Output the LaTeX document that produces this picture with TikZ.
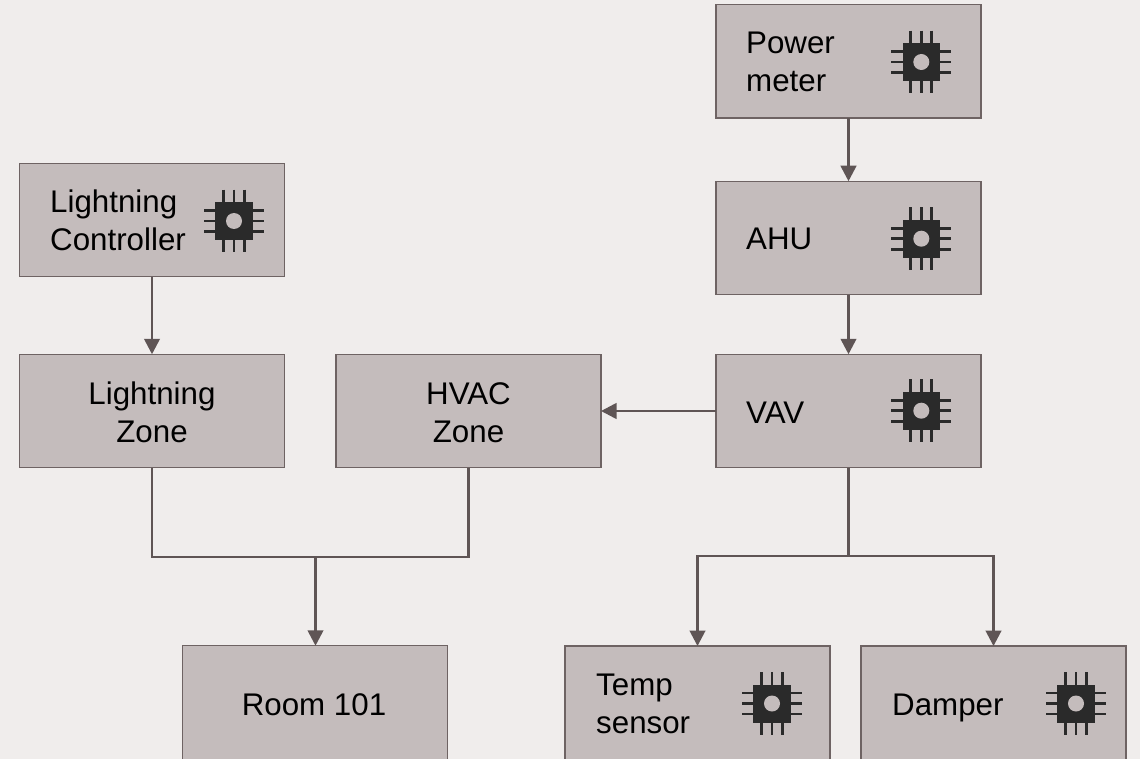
\documentclass[tikz,border=0pt]{standalone}
\usepackage{fontspec}
\setmainfont{Liberation Sans}
\usetikzlibrary{arrows.meta}
\definecolor{bgc}{HTML}{F0EDEC}
\definecolor{boxc}{HTML}{C4BCBC}
\definecolor{edgec}{HTML}{6E6363}
\definecolor{linec}{HTML}{5F5555}
\definecolor{chipc}{HTML}{2A2A2A}
\tikzset{
  x=1pt,y=-1pt,
  unit/.style={draw=edgec,fill=boxc,line width=1.4pt,minimum width=265pt,minimum height=113.5pt,inner sep=0pt,outer sep=0pt},
  lbl/.style={font=\fontsize{31.3}{38}\selectfont,text=black,inner sep=0pt,align=left,anchor=base west},
  clbl/.style={font=\fontsize{31.3}{38}\selectfont,text=black,inner sep=0pt,align=center,anchor=base},
  link/.style={draw=linec,line width=2.7pt},
  flow/.style={link,-{Triangle[width=15.5pt,length=15.5pt,fill=linec]}},
  chip/.pic={
    \foreach \k in {-10.5,0,10.5}{
      \draw[chipc,line width=2.7pt] (\k,-31.3)--(\k,31.3);
      \draw[chipc,line width=2.7pt] (-30,\k)--(30,\k);
    }
    \fill[chipc] (-18.7,-19) rectangle (18.7,19);
    \fill[boxc] (0,0) circle (8);
  }
}
\begin{document}
\begin{tikzpicture}
\useasboundingbox (0,0) rectangle (1140,759);
\fill[bgc] (0,0) rectangle (1140,759);
\begin{scope}
\clip (0,0) rectangle (1140,759);
\node[unit] (power) at (848.5,61.3) {};
\node[unit] (ahu) at (848.5,238) {};
\node[unit] (vav) at (848.5,411) {};
\node[unit] (hvac) at (468.5,411) {};
\node[unit] (lzone) at (152,411) {};
\node[unit] (lctrl) at (152,220) {};
\node[unit] (room) at (315,702.5) {};
\node[unit] (temp) at (697.5,702.8) {};
\node[unit] (damper) at (993.5,702.8) {};
\end{scope}

\node[lbl] (powert) at (746,92) {Power\\meter};
\node[lbl] (ahut) at (746,250) {AHU};
\node[lbl] (vavt) at (746,423) {VAV};
\node[clbl] (hvact) at (468.5,442) {HVAC\\Zone};
\node[clbl] (lzonet) at (152,442) {Lightning\\Zone};
\node[lbl] (lctrlt) at (50,251) {Lightning\\Controller};
\node[clbl] (roomt) at (314,715) {Room 101};
\node[lbl] (tempt) at (596,733) {Temp\\sensor};
\node[lbl] (dampert) at (892,715) {Damper};

\pic at (921.3,62) {chip};
\pic at (921.3,238.7) {chip};
\pic at (921.3,410.7) {chip};
\pic at (234,221) {chip};
\pic at (772,703.5) {chip};
\pic at (1076,703.5) {chip};

\coordinate (jl) at (315.5,557);
\coordinate (jr) at (848.5,556);

\draw[flow] (power.south) -- (ahu.north);
\draw[flow] (ahu.south) -- (vav.north);
\draw[flow] (vav.west) -- (hvac.east);
\draw[flow] (lctrl.south) -- (lzone.north);
\draw[link] (lzone.south) |- (jl);
\draw[link] (hvac.south) |- (jl);
\draw[flow] (jl) -- (jl |- room.north);
\draw[link] (vav.south) -- (jr);
\draw[flow] (jr) -| (temp.north);
\draw[flow] (jr) -| (damper.north);
\end{tikzpicture}
\end{document}
